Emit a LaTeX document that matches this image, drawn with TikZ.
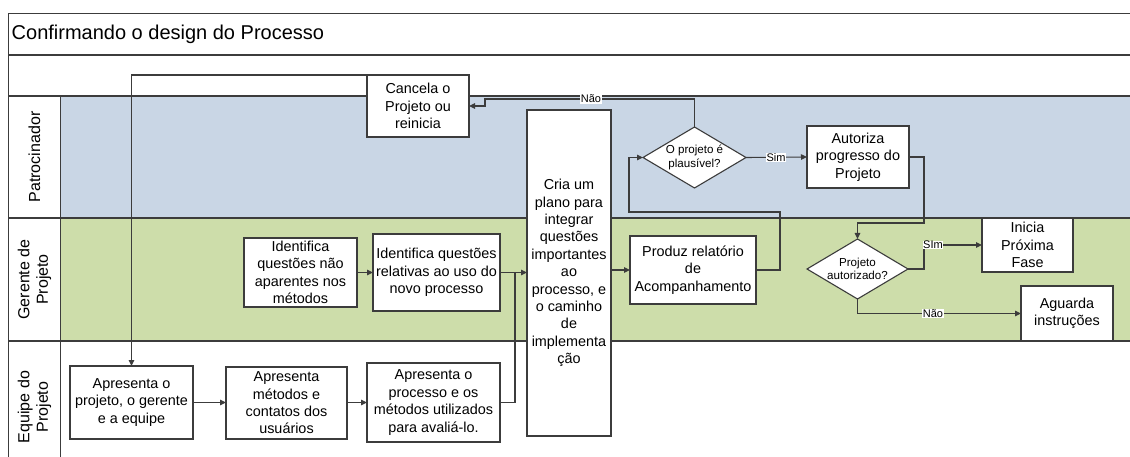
\documentclass[tikz,border=0pt]{standalone}
\usepackage{fontspec}
\setmainfont{Liberation Sans}
\usetikzlibrary{arrows.meta,shapes.geometric}
\definecolor{laneblue}{RGB}{201,214,229}
\definecolor{lanegreen}{RGB}{205,221,170}
\definecolor{ln}{RGB}{60,60,60}
\tikzset{
  boxnode/.style={draw=ln,fill=white,line width=1.1pt,rectangle,align=center,inner sep=1pt,outer sep=0pt,
    font=\fontsize{14.4}{17.4}\selectfont},
  decnode/.style={draw=ln,fill=white,line width=1.1pt,diamond,aspect=1.69,inner sep=0pt,outer sep=0pt,align=center,
    font=\fontsize{11.6}{13.4}\selectfont},
  conn/.style={draw=ln,line width=1.1pt,-{Triangle[length=6pt,width=5.5pt]}},
  plainconn/.style={draw=ln,line width=1.1pt},
  lbl/.style={fill=white,inner sep=0.6pt,font=\fontsize{11}{12}\selectfont},
  frameline/.style={draw=ln,line width=1.4pt},
  lanelbl/.style={rotate=90,align=center,font=\fontsize{16}{18.6}\selectfont},
}
\begin{document}
\begin{tikzpicture}[x=1pt,y=-1pt]
\useasboundingbox (0,0) rectangle (1130,457);
\clip (0,0) rectangle (1130,457);
% lanes
\fill[laneblue] (60.5,96) rectangle (1135,218);
\fill[lanegreen] (60.5,218) rectangle (1135,341);
\draw[frameline] (8.5,13.5) -- (1135,13.5);
\draw[frameline] (8.5,55) -- (1135,55);
\draw[frameline] (8.5,96) -- (1135,96);
\draw[frameline] (8.5,218) -- (1135,218);
\draw[frameline] (8.5,341) -- (1135,341);
\draw[frameline] (8.5,13.5) -- (8.5,470);
\draw[frameline] (60.5,96) -- (60.5,470);
% title and lane labels
\node[anchor=west,font=\fontsize{20}{24}\selectfont,inner sep=0pt] (title) at (11.5,34.5) {Confirmando o design do Processo};
\node[lanelbl] (lpat) at (34.5,157) {Patrocinador};
\node[lanelbl] (lger) at (34.5,279.5) {Gerente de\\Projeto};
\node[lanelbl] (lequ) at (34.5,407) {Equipe do\\Projeto};
% boxes
\node[boxnode,minimum width=102pt,minimum height=62pt] (cancela) at (418,106) {Cancela o\\Projeto ou\\reinicia};
\node[boxnode,minimum width=84pt,minimum height=326pt] (cria) at (569,273) {Cria um\\plano para\\integrar\\questões\\importantes\\ao\\processo, e\\o caminho\\de\\implementa\\ção};
\node[decnode,minimum width=103pt,minimum height=61pt] (d1) at (694.5,157.5) {O projeto é\\plausível?};
\node[boxnode,minimum width=102pt,minimum height=62pt] (autoriza) at (858,157) {Autoriza\\progresso do\\Projeto};
\node[decnode,minimum width=101pt,minimum height=60pt] (d2) at (857.5,269) {Projeto\\autorizado?};
\node[boxnode,minimum width=91pt,minimum height=54pt] (inicia) at (1027.5,245) {Inicia\\Próxima\\Fase};
\node[boxnode,minimum width=92pt,minimum height=55pt] (aguarda) at (1067,313.5) {Aguarda\\instruções};
\node[boxnode,minimum width=126pt,minimum height=68pt] (produz) at (693,270) {Produz relatório\\de\\Acompanhamento};
\node[boxnode,minimum width=113pt,minimum height=69pt] (idnao) at (300.5,272.5) {Identifica\\questões não\\aparentes nos\\métodos};
\node[boxnode,minimum width=127pt,minimum height=77pt] (idrel) at (436.5,272.5) {Identifica questões\\relativas ao uso do\\novo processo};
\node[boxnode,minimum width=123pt,minimum height=73pt] (approj) at (131.5,402.5) {Apresenta o\\projeto, o gerente\\e a equipe};
\node[boxnode,minimum width=121pt,minimum height=72pt] (apmet) at (286.5,403) {Apresenta\\métodos e\\contatos dos\\usuários};
\node[boxnode,minimum width=133pt,minimum height=79pt] (approc) at (433.5,402.5) {Apresenta o\\processo e os\\métodos utilizados\\para avaliá-lo.};
% connectors
\draw[conn] (cancela.north west) -| (approj.north);
\draw[conn] (approj.east) -- (apmet.west |- approj.east);
\draw[conn] (apmet.east |- approc.west) -- (approc.west);
\draw[conn] (idnao.east) -- (idrel.west);
\draw[conn] (idrel.east) -- (cria.west |- idrel.east);
\draw[plainconn] (approc.east) -| (515,272.5);
\draw[conn] (cria.east |- produz.west) -- (produz.west);
\draw[conn] (produz.east) -- ++(24,0) |- (629,212) |- (d1.west);
\draw[conn] (d1.north) |- (485,99) |- (cancela.east);
\node[lbl] (lnao1) at (591,99) {Não};
\draw[conn] (d1.east) -- (autoriza.west);
\node[lbl] (lsim1) at (776,157.5) {Sim};
\draw[conn] (autoriza.east) -| (924,223) -| (d2.north);
\draw[conn] (d2.east) -| (924,245) -- (inicia.west);
\node[lbl] (lsim2) at (933,245) {SIm};
\draw[conn] (d2.south) |- (aguarda.west);
\node[lbl] (lnao2) at (933,313.5) {Não};
\end{tikzpicture}
\end{document}
